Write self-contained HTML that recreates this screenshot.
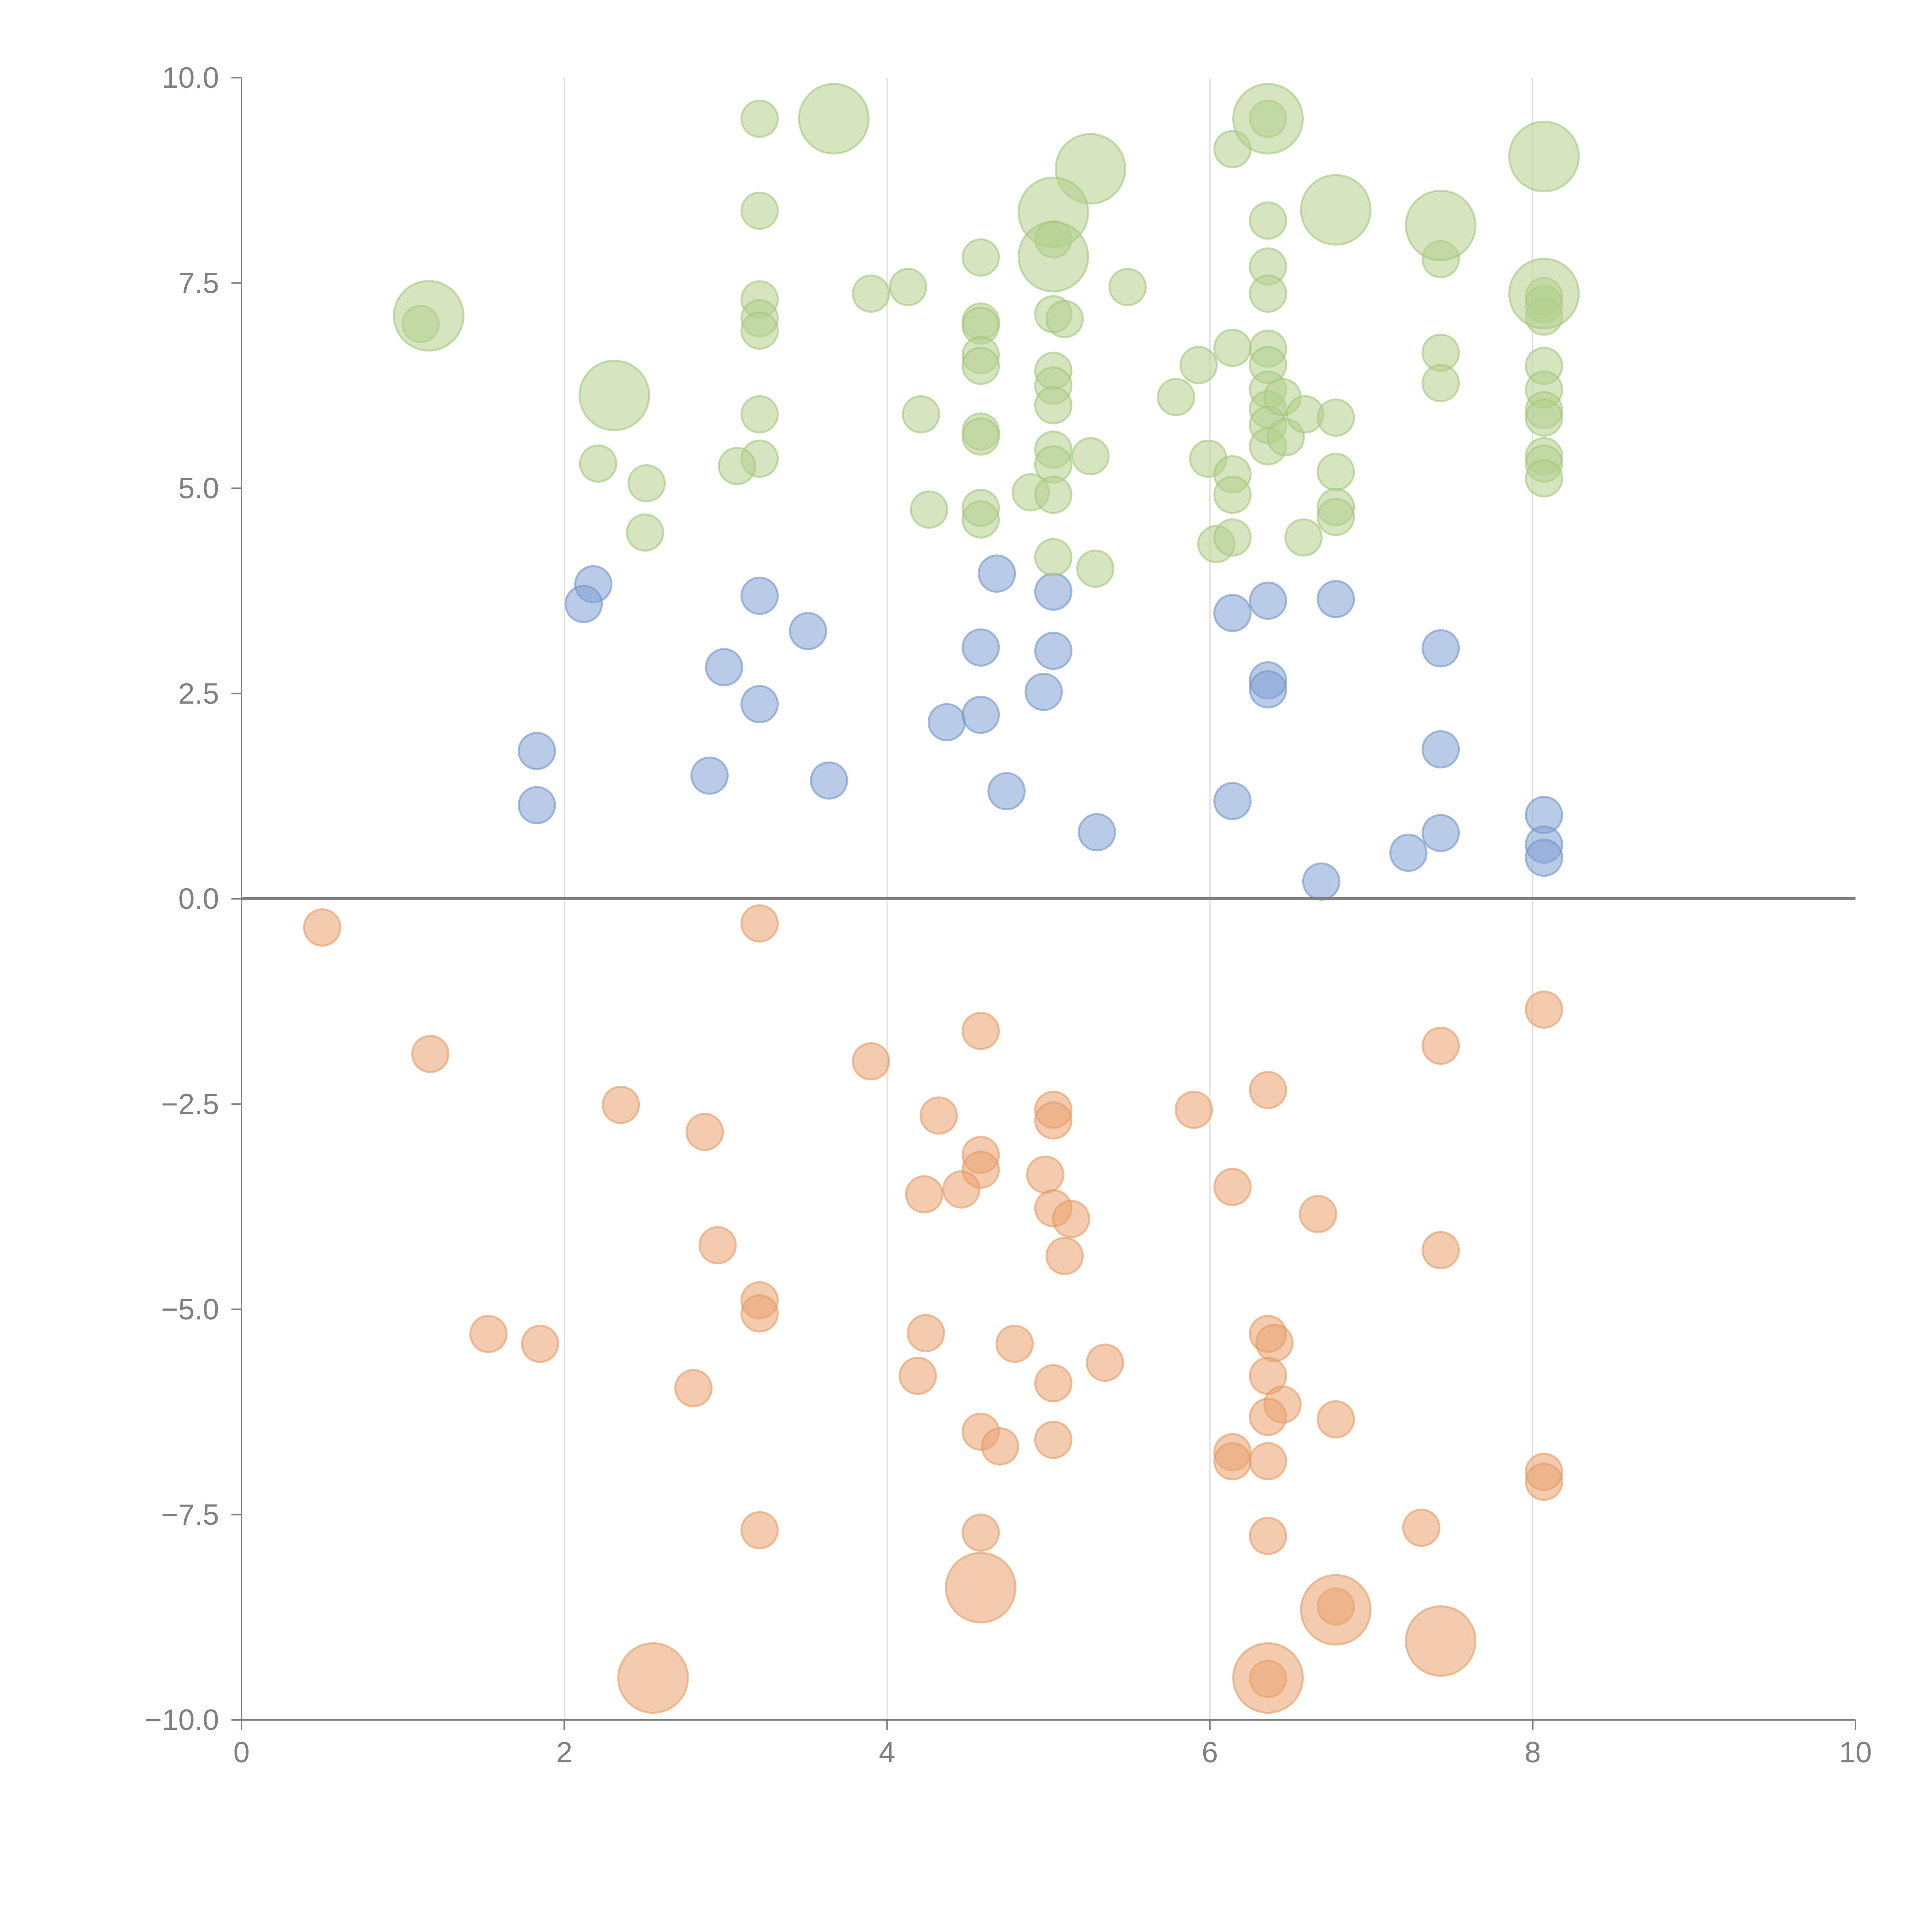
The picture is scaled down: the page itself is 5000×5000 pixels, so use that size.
<!DOCTYPE html>
<html><head><meta charset="utf-8"><style>html,body{margin:0;padding:0;background:#fff}svg{display:block}</style></head>
<body>
<svg id="chart" width="5000" height="5000" viewBox="0 0 5000 5000" xmlns="http://www.w3.org/2000/svg"></svg>
<script>
const xTicks=[0,2,4,6,8,10];
const yTicks=[10,7.5,5,2.5,0,-2.5,-5,-7.5,-10];
const blueX=[2.18,2.12,1.83,1.83,2.99,2.90,3.21,3.21,3.51,3.64,4.37,4.58,4.58,4.68,4.74,4.97,5.03,5.03,5.30,6.14,6.14,6.36,6.36,6.36,6.69,6.78,7.23,7.43,7.43,7.43,8.07,8.07,8.07];
const blueY=[3.83,3.59,1.80,1.14,2.82,1.50,3.69,2.37,3.26,1.44,2.15,3.06,2.24,3.96,1.31,2.52,3.74,3.02,0.81,3.48,1.19,3.63,2.66,2.55,0.21,3.65,0.56,3.05,1.82,0.80,1.02,0.66,0.50];
const orangeX=[0.50,3.21,1.17,3.90,4.58,8.07,7.43,2.35,2.87,4.32,5.03,5.03,5.90,6.36,4.58,4.58,4.98,4.23,4.46,5.03,5.14,6.14,6.67,2.95,5.10,7.43,3.21,3.21,1.53,1.85,4.24,4.79,5.35,6.36,6.40,4.19,5.03,6.36,2.80,6.45,6.36,6.78,4.58,4.70,5.03,6.14,6.14,6.36,8.07,8.07,3.21,4.58,6.36,7.31,6.78,6.36];
const orangeY=[-0.35,-0.30,-1.89,-1.98,-1.61,-1.35,-1.79,-2.51,-2.84,-2.64,-2.57,-2.70,-2.57,-2.33,-3.12,-3.30,-3.36,-3.60,-3.54,-3.77,-3.90,-3.51,-3.84,-4.22,-4.35,-4.28,-4.89,-5.05,-5.30,-5.42,-5.29,-5.42,-5.65,-5.30,-5.41,-5.81,-5.90,-5.81,-5.96,-6.16,-6.31,-6.34,-6.49,-6.67,-6.59,-6.74,-6.85,-6.85,-6.98,-7.10,-7.69,-7.72,-7.76,-7.66,-8.62,-9.50];
const orangeBigX=[2.55,4.58,6.78,7.43,6.36];
const orangeBigY=[-9.49,-8.39,-8.66,-9.04,-9.49];
const greenX=[1.11,3.21,3.21,3.21,3.21,3.21,3.21,3.21,3.07,2.21,2.51,2.50,3.90,4.13,4.21,4.26,4.58,4.58,4.58,4.58,4.58,4.58,4.58,4.58,4.58,4.89,5.03,5.03,5.10,5.03,5.03,5.03,5.03,5.03,5.03,5.03,5.26,5.29,5.49,5.79,5.93,5.99,6.04,6.14,6.14,6.14,6.14,6.14,6.36,6.36,6.36,6.36,6.36,6.36,6.36,6.36,6.36,6.36,6.45,6.47,6.59,6.58,6.78,6.78,6.78,6.78,7.43,7.43,7.43,8.07,8.07,8.07,8.07,8.07,8.07,8.07,8.07,8.07,8.07];
const greenY=[7.00,9.50,8.38,7.30,7.07,6.92,5.90,5.36,5.27,5.30,5.06,4.46,7.37,7.45,5.90,4.74,7.81,7.03,6.98,6.62,6.49,5.69,5.63,4.76,4.62,4.95,8.03,7.12,7.06,6.43,6.25,6.01,5.47,5.29,4.92,4.16,5.39,4.02,7.45,6.11,6.50,5.36,4.32,9.13,6.71,5.17,4.92,4.40,9.50,8.26,7.70,7.37,6.70,6.50,6.20,5.96,5.77,5.51,6.11,5.62,5.90,4.40,5.86,5.20,4.77,4.65,7.79,6.65,6.28,7.34,7.24,7.09,6.49,6.20,5.95,5.86,5.39,5.30,5.12];
const greenBigX=[1.16,2.31,3.67,5.26,5.03,5.03,6.36,6.78,7.43,8.07,8.07];
const greenBigY=[7.10,6.13,9.50,8.89,8.36,7.82,9.50,8.39,8.20,9.04,7.37];

const X0=625,X1=4802,Y0=4451,Y1=201;
const sx=v=>X0+(v-0)/(10-0)*(X1-X0);
const sy=v=>Y0-(v+10)/20*(Y0-Y1);
const svg=document.getElementById('chart');
const NS='http://www.w3.org/2000/svg';
function mk(tag,attrs,parent){const e=document.createElementNS(NS,tag);for(const k in attrs)e.setAttribute(k,attrs[k]);(parent||svg).appendChild(e);return e;}

const grid=mk('g',{});


xTicks.forEach(t=>{if(t===0||t===10)return;const l=mk('line',{x1:sx(t),x2:sx(t),y1:Y1,y2:Y0,stroke:'#dddddd','stroke-width':3},grid);

});

function series(xs,ys,r,fill,stroke,name){
  const g=mk('g',{});
  
  
  xs.forEach((x,i)=>{const c=mk('circle',{cx:sx(x),cy:sy(ys[i]),r:r,fill:fill,'fill-opacity':0.55,stroke:stroke,'stroke-opacity':0.6,'stroke-width':5},g);
  
  });
}
series(blueX,blueY,47,'#7fa1d4','#6f93c9','blue');
series(orangeX,orangeY,47,'#e9a36f','#e39a62','orange');
series(orangeBigX,orangeBigY,90,'#e9a36f','#e39a62','orange-large');
series(greenX,greenY,47,'#b2cf8c','#a2c47a','green');
series(greenBigX,greenBigY,90,'#b2cf8c','#a2c47a','green-large');

const zero=mk('line',{x1:X0,x2:X1,y1:sy(0),y2:sy(0),stroke:'#808080','stroke-width':8});



const ax=mk('g',{});


const yl=mk('line',{x1:X0,x2:X0,y1:Y1,y2:Y0,stroke:'#808080','stroke-width':4},ax);


const xl=mk('line',{x1:X0,x2:X1,y1:Y0,y2:Y0,stroke:'#808080','stroke-width':4},ax);


yTicks.forEach(t=>{
  const tk=mk('line',{x1:X0-26,x2:X0,y1:sy(t),y2:sy(t),stroke:'#808080','stroke-width':4},ax);
  
  
  const tx=mk('text',{x:X0-58,y:sy(t)+26,'text-anchor':'end','font-family':'Liberation Sans, sans-serif','font-size':76,fill:'#808080'},ax);
  tx.textContent=(t<0?'\u2212':'')+Math.abs(t).toFixed(1);
  
  
});
xTicks.forEach(t=>{
  const tk=mk('line',{x1:sx(t),x2:sx(t),y1:Y0,y2:Y0+26,stroke:'#808080','stroke-width':4},ax);
  
  
  const tx=mk('text',{x:sx(t),y:Y0+110,'text-anchor':'middle','font-family':'Liberation Sans, sans-serif','font-size':76,fill:'#808080'},ax);
  tx.textContent=String(t);
  
  
});
</script>
</body></html>
